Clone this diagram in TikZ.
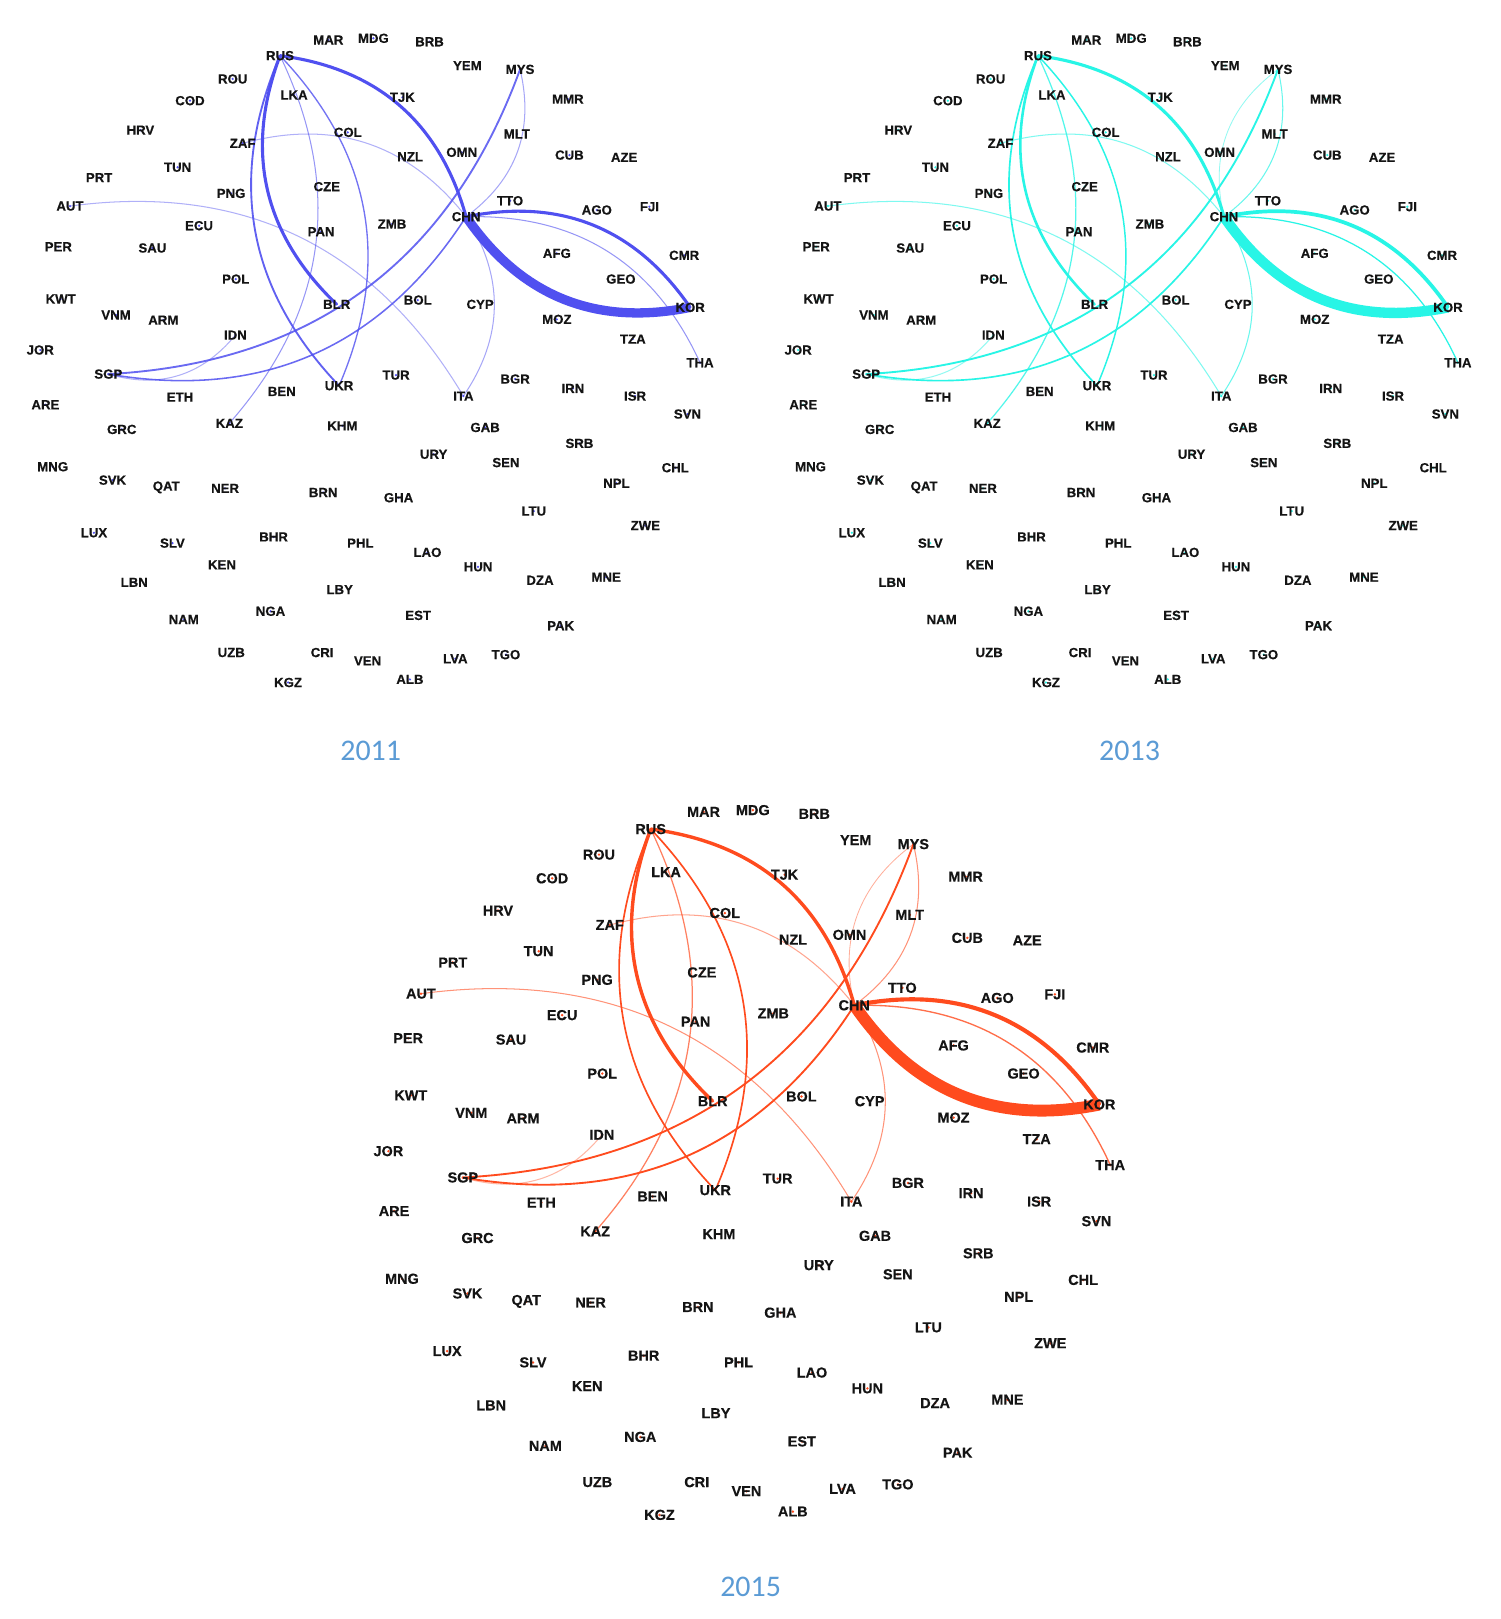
\documentclass[tikz,border=0pt]{standalone}
\usepackage{fontspec}
\setmainfont{Liberation Sans}
\newfontfamily\capfont{Carlito}
\newfontfamily\lblfont[FakeBold=0.4]{Liberation Sans Bold}
\usetikzlibrary{calc}
\pgfdeclarelayer{bg}
\pgfsetlayers{bg,main}
\definecolor{capc}{RGB}{91,155,213}
\definecolor{cA}{RGB}{80,80,240}
\definecolor{cB}{RGB}{40,245,230}
\definecolor{cC}{RGB}{255,75,30}
\colorlet{ecol}{cA}
\tikzset{
  lbl/.style={font=\lblfont\fontsize{12.8}{12.8}\selectfont, inner sep=0pt, text=black!92},
  dotc/.style={fill=ecol},
  ed/.style={draw=ecol},
  yearlbl/.style={font=\capfont\fontsize{29}{29}\selectfont, text=capc, inner sep=0pt}
}
\newcommand\N[3]{\node[lbl] (#1) at (#2,#3) {#1};}
\newcommand\CE[3]{\path ($(#2)!0.5!(#3)!0.66!90:(#3)$) coordinate (q);
  \draw[#1] (#2.center) .. controls ($(#2)!0.6667!(q)$) and ($(#3)!0.6667!(q)$) .. (#3.center);}
\newcommand\NameList{MAR,MDG,BRB,RUS,YEM,MYS,ROU,LKA,TJK,MMR,COD,HRV,COL,MLT,ZAF,NZL,OMN,CUB,AZE,TUN,PRT,PNG,CZE,TTO,AUT,ECU,CHN,AGO,FJI,PER,SAU,PAN,ZMB,AFG,CMR,POL,GEO,KWT,BLR,BOL,CYP,KOR,VNM,ARM,MOZ,IDN,TZA,JOR,THA,SGP,TUR,UKR,ETH,BEN,ITA,BGR,IRN,ISR,ARE,SVN,GRC,KAZ,KHM,GAB,SRB,URY,MNG,SEN,CHL,SVK,QAT,NER,NPL,BRN,GHA,LTU,LUX,ZWE,SLV,BHR,PHL,LAO,KEN,HUN,DZA,MNE,LBN,LBY,NAM,NGA,EST,PAK,UZB,CRI,VEN,LVA,TGO,KGZ,ALB}
\newcommand\Panel{%
\N{MAR}{318}{38.7}
\N{MDG}{361.6}{37.1}
\N{BRB}{416}{40.4}
\N{RUS}{271.2}{53.9}
\N{YEM}{452.7}{63.6}
\N{MYS}{503.7}{67.2}
\N{ROU}{225.4}{76.5}
\N{LKA}{284.8}{92}
\N{TJK}{389.7}{94.3}
\N{MMR}{550}{96}
\N{COD}{184}{97.5}
\N{HRV}{136}{126}
\N{COL}{336.8}{128.2}
\N{MLT}{500.5}{129.8}
\N{ZAF}{235}{138.8}
\N{NZL}{397.2}{151.8}
\N{OMN}{447.2}{147.5}
\N{CUB}{551.5}{150.2}
\N{AZE}{604.5}{152.4}
\N{TUN}{172}{162}
\N{PRT}{96}{172}
\N{PNG}{223.8}{187.3}
\N{CZE}{316.5}{180.8}
\N{TTO}{494}{194.4}
\N{AUT}{67.8}{199.6}
\N{ECU}{192.8}{218.6}
\N{CHN}{451.4}{209.9}
\N{AGO}{578}{203.4}
\N{FJI}{629}{200.2}
\N{PER}{56.5}{239}
\N{SAU}{147.6}{240.2}
\N{PAN}{311}{224.4}
\N{ZMB}{379.7}{217}
\N{AFG}{539.3}{245.4}
\N{CMR}{662.6}{247.3}
\N{POL}{228.3}{270.3}
\N{GEO}{601.3}{270.3}
\N{KWT}{58.8}{289.6}
\N{BLR}{326.1}{294.8}
\N{BOL}{404.6}{290.6}
\N{CYP}{465}{294.8}
\N{KOR}{668.4}{297.7}
\N{VNM}{112.4}{305.1}
\N{ARM}{158.2}{310}
\N{MOZ}{539.3}{309.3}
\N{IDN}{228}{324.5}
\N{TZA}{612.9}{328.4}
\N{JOR}{39}{339}
\N{THA}{678}{351.3}
\N{SGP}{104.9}{362.3}
\N{TUR}{383.6}{363.3}
\N{UKR}{328.4}{373.6}
\N{ETH}{174.4}{384.6}
\N{BEN}{272.9}{379.1}
\N{ITA}{448.8}{383.6}
\N{BGR}{498.9}{367.1}
\N{IRN}{554.8}{376.2}
\N{ISR}{615.1}{383.6}
\N{ARE}{44}{392}
\N{SVN}{665.8}{401}
\N{GRC}{117.9}{415.9}
\N{KAZ}{222.1}{410}
\N{KHM}{331.6}{412.4}
\N{GAB}{469.8}{414}
\N{SRB}{561.2}{429.4}
\N{URY}{420}{440}
\N{MNG}{51}{452}
\N{SEN}{490}{448}
\N{CHL}{654}{453}
\N{SVK}{109}{465}
\N{QAT}{161}{472}
\N{NER}{218}{473}
\N{NPL}{597}{468}
\N{BRN}{313}{477}
\N{GHA}{386}{482}
\N{LTU}{517}{495}
\N{LUX}{91}{516}
\N{ZWE}{625}{509}
\N{SLV}{167}{526}
\N{BHR}{265}{520}
\N{PHL}{349}{526}
\N{LAO}{414}{535}
\N{KEN}{215}{547}
\N{HUN}{463}{549}
\N{DZA}{523}{562}
\N{MNE}{587}{559}
\N{LBN}{130}{564}
\N{LBY}{329}{571}
\N{NAM}{178}{600}
\N{NGA}{262}{592}
\N{EST}{405}{596}
\N{PAK}{543}{606}
\N{UZB}{224}{632}
\N{CRI}{312}{632}
\N{VEN}{356}{640}
\N{LVA}{441}{638}
\N{TGO}{490}{634}
\N{KGZ}{279}{661}
\N{ALB}{397}{658}
\begin{pgfonlayer}{bg}
\CE{Eai}{AUT}{ITA}
\CE{Ezc}{ZAF}{CHN}
\CE{Eis}{IDN}{SGP}
\CE{Erk}{RUS}{KAZ}
\CE{Eci}{CHN}{ITA}
\CE{Ect}{CHN}{THA}
\CE{Emc}{MYS}{CHN}
\CE{Ecm}{CHN}{MYS}
\CE{Ems}{MYS}{SGP}
\CE{Ecs}{CHN}{SGP}
\CE{Eur}{UKR}{RUS}
\CE{Eru}{RUS}{UKR}
\CE{Erb}{BLR}{RUS}
\CE{Erc}{RUS}{CHN}
\CE{Ekcu}{CHN}{KOR}
\CE{Ekcl}{KOR}{CHN}
\foreach \n in \NameList {\fill[dotc] (\n.center) circle (1.2);}
\end{pgfonlayer}
}
\begin{document}
\begin{tikzpicture}[x=1pt,y=-1pt]
\begin{pgfonlayer}{bg}
\fill[white] (0,0) rectangle (1453,1568);
\end{pgfonlayer}
\useasboundingbox (0,0) rectangle (1453,1568);
% 2011
\begin{scope}[name prefix=a-,
  Ekcl/.style={ed,line width=9pt}, Ekcu/.style={ed,line width=3pt},
  Erc/.style={ed,line width=3pt}, Erb/.style={ed,line width=3pt},
  Eur/.style={ed,line width=1.8pt,draw opacity=.9}, Eru/.style={ed,line width=1.3pt,draw opacity=.8},
  Erk/.style={ed,line width=1pt,draw opacity=.6}, Ezc/.style={ed,line width=1pt,draw opacity=.45},
  Eai/.style={ed,line width=1pt,draw opacity=.45}, Ems/.style={ed,line width=1.8pt,draw opacity=.85},
  Ecs/.style={ed,line width=1.5pt,draw opacity=.85}, Eis/.style={ed,line width=1pt,draw opacity=.45},
  Emc/.style={ed,line width=1pt,draw opacity=.5}, Ecm/.style={draw=none},
  Eci/.style={ed,line width=1pt,draw opacity=.5}, Ect/.style={ed,line width=1pt,draw opacity=.6}]
\colorlet{ecol}{cA}
\Panel
\end{scope}
% 2013
\begin{scope}[xshift=734pt, name prefix=b-,
  Ekcl/.style={ed,line width=10pt}, Ekcu/.style={ed,line width=3.6pt},
  Erc/.style={ed,line width=3pt}, Erb/.style={ed,line width=2.5pt},
  Eur/.style={ed,line width=1.6pt}, Eru/.style={ed,line width=1.4pt},
  Erk/.style={ed,line width=1.2pt,draw opacity=.8}, Ezc/.style={ed,line width=1pt,draw opacity=.6},
  Eai/.style={ed,line width=1pt,draw opacity=.6}, Ems/.style={ed,line width=1.8pt},
  Ecs/.style={ed,line width=1.6pt}, Eis/.style={ed,line width=1pt,draw opacity=.5},
  Emc/.style={ed,line width=1pt,draw opacity=.7}, Ecm/.style={ed,line width=.8pt,draw opacity=.5},
  Eci/.style={ed,line width=1pt,draw opacity=.7}, Ect/.style={ed,line width=1.2pt}]
\colorlet{ecol}{cB}
\Panel
\end{scope}
% 2015
\begin{scope}[xshift=333.5pt, yshift=-744pt, scale=1.094, transform shape, name prefix=c-,
  Ekcl/.style={ed,line width=11.5pt}, Ekcu/.style={ed,line width=4pt},
  Erc/.style={ed,line width=3.3pt}, Erb/.style={ed,line width=3.3pt},
  Eur/.style={ed,line width=1.6pt}, Eru/.style={ed,line width=1.6pt},
  Erk/.style={ed,line width=1.2pt,draw opacity=.7}, Ezc/.style={ed,line width=1pt,draw opacity=.5},
  Eai/.style={ed,line width=1pt,draw opacity=.6}, Ems/.style={ed,line width=1.8pt},
  Ecs/.style={ed,line width=1.8pt}, Eis/.style={ed,line width=1pt,draw opacity=.4},
  Emc/.style={ed,line width=1pt,draw opacity=.6}, Ecm/.style={ed,line width=.8pt,draw opacity=.45},
  Eci/.style={ed,line width=1pt,draw opacity=.6}, Ect/.style={ed,line width=1.3pt,draw opacity=.8}]
\colorlet{ecol}{cC}
\Panel
\end{scope}
\node[yearlbl] (y2011) at (359,727) {2011};
\node[yearlbl] (y2013) at (1094,727) {2013};
\node[yearlbl] (y2015) at (727,1537) {2015};
\end{tikzpicture}
\end{document}
